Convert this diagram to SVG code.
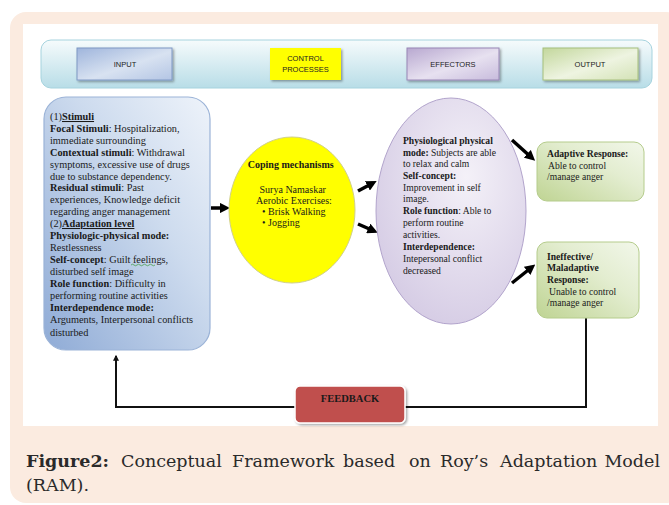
<svg xmlns="http://www.w3.org/2000/svg" width="669" height="505" viewBox="0 0 669 505">
  <defs>
    <style>
      .serif { font-family: "Liberation Serif", "Times New Roman", serif; fill: #1a1a1a; }
      .hdr { font-family: "Liberation Sans", Arial, sans-serif; font-size: 7.5px; fill: #222; text-anchor: middle; }
      .b { font-weight: bold; }
      .u { text-decoration: underline; }
      .cap { font-family: "DejaVu Serif", serif; font-size: 17.5px; fill: #2a2a2a; }
      .thick { stroke: #000; stroke-width: 3.5; fill: none; marker-end: url(#head); }
      .thin { stroke: #111; stroke-width: 2; fill: none; }
    </style>
    <linearGradient id="gBand" x1="0" y1="0" x2="0" y2="1">
      <stop offset="0" stop-color="#f6fbfc"/>
      <stop offset="1" stop-color="#b8dde7"/>
    </linearGradient>
    <linearGradient id="gInput" x1="0" y1="0" x2="1" y2="1">
      <stop offset="0" stop-color="#9fb5dc"/>
      <stop offset="0.55" stop-color="#d8e2f1"/>
      <stop offset="1" stop-color="#b3c5e4"/>
    </linearGradient>
    <linearGradient id="gEff" x1="0" y1="0" x2="1" y2="1">
      <stop offset="0" stop-color="#b8a8d0"/>
      <stop offset="0.55" stop-color="#e7e1f0"/>
      <stop offset="1" stop-color="#c7bbdc"/>
    </linearGradient>
    <linearGradient id="gOut" x1="0" y1="0" x2="1" y2="1">
      <stop offset="0" stop-color="#c3d79c"/>
      <stop offset="0.55" stop-color="#eef4e1"/>
      <stop offset="1" stop-color="#d3e2b6"/>
    </linearGradient>
    <linearGradient id="gLeft" x1="0" y1="1" x2="1" y2="0">
      <stop offset="0" stop-color="#8fabd6"/>
      <stop offset="0.6" stop-color="#cddbee"/>
      <stop offset="1" stop-color="#eef3fa"/>
    </linearGradient>
    <radialGradient id="gPurple" cx="0.6" cy="0.35" r="0.75">
      <stop offset="0" stop-color="#f4f1f8"/>
      <stop offset="1" stop-color="#d3c9e3"/>
    </radialGradient>
    <linearGradient id="gGreen" x1="0" y1="1" x2="1" y2="0">
      <stop offset="0" stop-color="#bfd493"/>
      <stop offset="0.6" stop-color="#e3edd0"/>
      <stop offset="1" stop-color="#f2f7ea"/>
    </linearGradient>
    <filter id="shadow" x="-10%" y="-10%" width="130%" height="140%">
      <feDropShadow dx="1.5" dy="1.5" stdDeviation="1" flood-color="#000" flood-opacity="0.35"/>
    </filter>
    <marker id="head" viewBox="0 0 10 10" refX="6" refY="5" markerWidth="3" markerHeight="3" orient="auto" markerUnits="strokeWidth">
      <path d="M0,0 L10,5 L0,10 z" fill="#000"/>
    </marker>
    <marker id="headSmall" viewBox="0 0 10 10" refX="8" refY="5" markerWidth="3" markerHeight="3" orient="auto" markerUnits="strokeWidth">
      <path d="M0,0 L10,5 L0,10 z" fill="#111"/>
    </marker>
  </defs>

  <!-- page backdrop -->
  <rect x="10" y="12" width="672" height="491" rx="16" fill="#fbebe0"/>
  <rect x="23" y="24" width="635" height="402" fill="#ffffff"/>

  <!-- header band -->
  <g id="header-band">
    <rect x="41" y="40" width="611" height="48" rx="10" fill="url(#gBand)" stroke="#a6d3de" stroke-width="1"/>
  </g>
  <g id="hdr-input">
    <rect x="77" y="48" width="95" height="32" fill="url(#gInput)" stroke="#7e98c4" stroke-width="1" filter="url(#shadow)"/>
    <text class="hdr" x="125" y="67">INPUT</text>
  </g>
  <g id="hdr-control">
    <rect x="270" y="48" width="71" height="32" fill="#ffff00" filter="url(#shadow)"/>
    <text class="hdr" x="305.5" y="61">CONTROL</text>
    <text class="hdr" x="305.5" y="72">PROCESSES</text>
  </g>
  <g id="hdr-effectors">
    <rect x="407" y="48" width="92" height="32" fill="url(#gEff)" stroke="#9886b6" stroke-width="1" filter="url(#shadow)"/>
    <text class="hdr" x="453" y="67">EFFECTORS</text>
  </g>
  <g id="hdr-output">
    <rect x="543" y="48" width="95" height="32" fill="url(#gOut)" stroke="#a6bf7c" stroke-width="1" filter="url(#shadow)"/>
    <text class="hdr" x="590" y="67">OUTPUT</text>
  </g>

  <!-- connectors -->
  <g id="connectors">
    <line class="thick" x1="211" y1="208" x2="226" y2="208"/>
    <line class="thick" x1="358" y1="191" x2="373" y2="183"/>
    <line class="thick" x1="358" y1="224" x2="374" y2="231"/>
    <line class="thick" x1="512" y1="140" x2="532" y2="158"/>
    <line class="thick" x1="512" y1="283" x2="532" y2="267"/>
    <path class="thin" d="M586,318 V407 H116 V356" marker-end="url(#headSmall)"/>
  </g>

  <!-- input node -->
  <g id="input-node">
    <rect x="44" y="97" width="166" height="253" rx="22" fill="url(#gLeft)" stroke="#9bb3d7" stroke-width="1.2"/>
    <text class="serif" font-size="10.3">
      <tspan x="50" y="120">(1)<tspan class="b u">Stimuli</tspan></tspan>
      <tspan x="50" y="132"><tspan class="b">Focal Stimuli</tspan>: Hospitalization,</tspan>
      <tspan x="50" y="144">immediate surrounding</tspan>
      <tspan x="50" y="156"><tspan class="b">Contextual stimuli</tspan>: Withdrawal</tspan>
      <tspan x="50" y="168">symptoms, excessive use of drugs</tspan>
      <tspan x="50" y="180">due to substance dependency.</tspan>
      <tspan x="50" y="191"><tspan class="b">Residual stimuli</tspan>: Past</tspan>
      <tspan x="50" y="203">experiences, Knowledge deficit</tspan>
      <tspan x="50" y="215">regarding anger management</tspan>
      <tspan x="50" y="227">(2)<tspan class="b u">Adaptation level</tspan></tspan>
      <tspan x="50" y="239" class="b">Physiologic-physical mode:</tspan>
      <tspan x="50" y="251">Restlessness</tspan>
      <tspan x="50" y="263"><tspan class="b">Self-concept</tspan>: Guilt feelings,</tspan>
      <tspan x="50" y="275">disturbed self image</tspan>
      <tspan x="50" y="287"><tspan class="b">Role function</tspan>:  Difficulty in</tspan>
      <tspan x="50" y="299">performing routine activities</tspan>
      <tspan x="50" y="311" class="b">Interdependence mode:</tspan>
      <tspan x="50" y="323">Arguments, Interpersonal conflicts</tspan>
      <tspan x="50" y="336">disturbed</tspan>
    </text>
    <path d="M131,265 q1.5,-1.5 3,0 t3,0 t3,0 t3,0 t3,0 t3,0 t3,0 t3,0" fill="none" stroke="#3a9a3a" stroke-width="0.7"/>
  </g>

  <!-- control process node -->
  <g id="coping-node">
    <ellipse cx="292" cy="210" rx="63" ry="73" fill="#ffff00" stroke="#d0cf8a" stroke-width="1"/>
    <text class="serif" font-size="10" text-anchor="middle">
      <tspan x="292" y="168" class="b">Coping mechanisms</tspan>
      <tspan x="294" y="193">Surya Namaskar</tspan>
      <tspan x="294" y="204">Aerobic Exercises:</tspan>
    </text>
    <text class="serif" font-size="10">
      <tspan x="262" y="215">•  Brisk Walking</tspan>
      <tspan x="262" y="226">•  Jogging</tspan>
    </text>
  </g>

  <!-- effectors node -->
  <g id="effectors-node">
    <ellipse cx="451" cy="211" rx="75" ry="113" fill="url(#gPurple)" stroke="#b2a4cc" stroke-width="1"/>
    <text class="serif" font-size="9.6">
      <tspan x="403" y="144" class="b">Physiological physical</tspan>
      <tspan x="403" y="156"><tspan class="b">mode:</tspan> Subjects are able</tspan>
      <tspan x="403" y="167">to relax and calm</tspan>
      <tspan x="403" y="179" class="b">Self-concept:</tspan>
      <tspan x="403" y="191">Improvement in self</tspan>
      <tspan x="403" y="202">image.</tspan>
      <tspan x="403" y="214"><tspan class="b">Role function</tspan>: Able to</tspan>
      <tspan x="403" y="226">perform routine</tspan>
      <tspan x="403" y="238">activities.</tspan>
      <tspan x="403" y="250" class="b">Interdependence:</tspan>
      <tspan x="403" y="262">Intepersonal conflict</tspan>
      <tspan x="403" y="274">decreased</tspan>
    </text>
  </g>

  <!-- output nodes -->
  <g id="adaptive-node">
    <rect x="537" y="142" width="107" height="59" rx="10" fill="url(#gGreen)" stroke="#b5cc8c" stroke-width="1"/>
    <text class="serif" font-size="9.6">
      <tspan x="547" y="157" class="b">Adaptive Response:</tspan>
      <tspan x="548" y="169">Able to control</tspan>
      <tspan x="547" y="180">/manage anger</tspan>
    </text>
  </g>
  <g id="maladaptive-node">
    <rect x="537" y="242" width="102" height="76" rx="10" fill="url(#gGreen)" stroke="#b5cc8c" stroke-width="1"/>
    <text class="serif" font-size="9.6">
      <tspan x="547" y="260" class="b">Ineffective/</tspan>
      <tspan x="547" y="271" class="b">Maladaptive</tspan>
      <tspan x="547" y="283" class="b">Response:</tspan>
      <tspan x="549" y="295">Unable to control</tspan>
      <tspan x="547" y="306">/manage anger</tspan>
    </text>
  </g>

  <!-- feedback node -->
  <g id="feedback-node">
    <rect x="295" y="386" width="110" height="37" rx="5" fill="#c0504d" stroke="#ffffff" stroke-width="1.5" filter="url(#shadow)"/>
    <text class="serif b" font-size="10.5" x="350" y="402" text-anchor="middle">FEEDBACK</text>
  </g>

  <!-- caption (first line justified word by word) -->
  <g id="caption">
    <text class="cap" y="467">
      <tspan x="26" font-weight="bold">Figure2:</tspan>
      <tspan x="121">Conceptual</tspan>
      <tspan x="232">Framework</tspan>
      <tspan x="343">based</tspan>
      <tspan x="409">on</tspan>
      <tspan x="440">Roy’s</tspan>
      <tspan x="500">Adaptation</tspan>
    </text>
    <text class="cap" x="660" y="467" text-anchor="end">Model</text>
    <text class="cap" x="26" y="491">(RAM).</text>
  </g>
</svg>
